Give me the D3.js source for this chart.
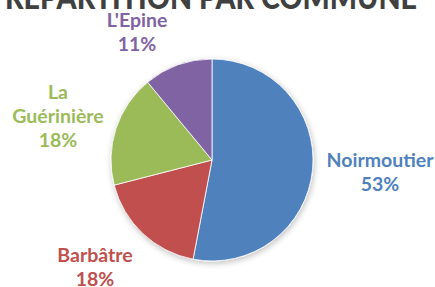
<!DOCTYPE html>
<html><head><meta charset="utf-8">
<script src="https://cdn.jsdelivr.net/npm/d3@7"></script>
<style>html,body{margin:0;padding:0;background:#fff;overflow:hidden}</style>
</head><body>
<script>
const title = "RÉPARTITION PAR COMMUNE";
const categories = ["Noirmoutier", "Barbâtre", "La Guérinière", "L'Epine"];
const values = [53, 18, 18, 11];
const colors = ["#4F81BD", "#C0504D", "#9BBB59", "#8064A2"];
const labelLines = [["Noirmoutier"], ["Barbâtre"], ["La", "Guérinière"], ["L'Epine"]];

// layout
const W = 435, H = 287;
const cx = 212, cy = 160, r = 101;
const labelAnchor = [[380, 160], [95, 255], [58, 92], [137, 20]]; // first line visual center
const lineH = 24;

const svg = d3.select("body").append("svg").attr("width", W).attr("height", H);
const defs = svg.append("defs");
const f = defs.append("filter").attr("id", "sh").attr("x", "-20%").attr("y", "-20%").attr("width", "140%").attr("height", "140%");
f.append("feGaussianBlur").attr("in", "SourceAlpha").attr("stdDeviation", 3);
f.append("feOffset").attr("dx", 1).attr("dy", 2).attr("result", "b");
f.append("feComponentTransfer").append("feFuncA").attr("type", "linear").attr("slope", 0.25);
const m = f.append("feMerge"); m.append("feMergeNode"); m.append("feMergeNode").attr("in", "SourceGraphic");

svg.append("text").attr("x", 211).attr("y", 9).attr("text-anchor", "middle")
  .attr("font-family", "Lato").attr("font-weight", "900").attr("font-size", 32)
  .attr("fill", "#404040").attr("textLength", 412).attr("lengthAdjust", "spacingAndGlyphs").text(title);

const pie = d3.pie().sort(null).value(d => d);
const arcs = pie(values);
const arc = d3.arc().innerRadius(0).outerRadius(r);
const g = svg.append("g").attr("transform", `translate(${cx},${cy})`);
g.append("g").attr("filter", "url(#sh)").selectAll("path").data(arcs).join("path")
  .attr("d", arc).attr("fill", (d, i) => colors[i]).attr("stroke", "#fff").attr("stroke-width", 0.8);

arcs.forEach((a, i) => {
  const lines = labelLines[i].concat([Math.round(values[i]) + "%"]);
  const [x, y] = labelAnchor[i];
  const t = svg.append("text").attr("text-anchor", "middle")
    .attr("font-family", "Lato").attr("font-weight", "bold").attr("font-size", 19.5)
    .attr("fill", colors[i]);
  lines.forEach((s, k) => t.append("tspan").attr("x", x).attr("y", y + 7 + k * lineH).text(s));
});
</script>
</body></html>
